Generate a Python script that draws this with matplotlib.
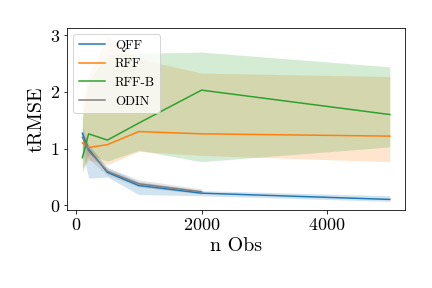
import numpy as np
import matplotlib
matplotlib.use("Agg")
from matplotlib import pyplot as plt

plt.rcParams["font.family"] = "serif"
plt.rcParams["font.serif"] = ["cmr10", "DejaVu Serif"]
plt.rcParams["mathtext.fontset"] = "cm"
plt.rcParams["axes.formatter.use_mathtext"] = True

# data
n_obs = [100, 200, 500, 1000, 2000, 5000]
n_obs_odin = [100, 200, 500, 1000, 2000]

qff_mean = [1.27, 0.99, 0.58, 0.35, 0.215, 0.105]
qff_low = [0.95, 0.48, 0.50, 0.19, 0.17, 0.07]
qff_high = [1.32, 1.05, 0.66, 0.42, 0.26, 0.17]

rff_mean = [1.10, 1.02, 1.07, 1.30, 1.26, 1.22]
rff_low = [0.65, 0.80, 0.72, 0.95, 0.88, 0.77]
rff_high = [1.80, 2.30, 2.98, 2.58, 2.33, 2.27]

rffb_mean = [0.84, 1.26, 1.15, 1.45, 2.03, 1.60]
rffb_low = [0.57, 0.90, 0.78, 0.97, 0.77, 1.03]
rffb_high = [1.50, 2.20, 2.65, 2.68, 2.70, 2.44]

odin_mean = [1.20, 0.96, 0.60, 0.38, 0.24]
odin_low = [1.00, 0.82, 0.53, 0.32, 0.20]
odin_high = [1.40, 1.08, 0.67, 0.45, 0.29]

series = [
    ("QFF", n_obs, qff_mean, qff_low, qff_high, "tab:blue"),
    ("RFF", n_obs, rff_mean, rff_low, rff_high, "tab:orange"),
    ("RFF-B", n_obs, rffb_mean, rffb_low, rffb_high, "tab:green"),
    ("ODIN", n_obs_odin, odin_mean, odin_low, odin_high, "tab:gray"),
]

fig, ax = plt.subplots(figsize=(6, 4), dpi=72)
fig.subplots_adjust(left=0.155, right=0.938, bottom=0.272, top=0.903)

for name, x, m, lo, hi, col in series:
    ax.plot(x, m, color=col, linewidth=1.5, label=name)
    ax.fill_between(x, lo, hi, color=col, alpha=0.2, linewidth=0)

ax.set_yticks([0, 1, 2, 3])
ax.set_xticks([0, 2000, 4000])
ax.tick_params(labelsize=18)
ax.set_xlabel("n Obs", fontsize=20)
ax.set_ylabel("tRMSE", fontsize=20)
ax.legend(loc="upper left", fontsize=13)

fig.savefig("out.png", dpi=72)
